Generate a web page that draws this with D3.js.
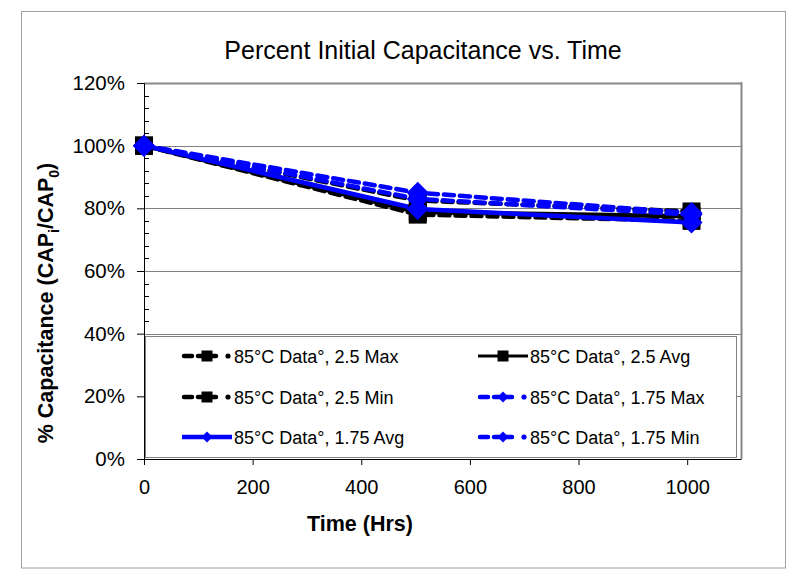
<!DOCTYPE html>
<html><head><meta charset="utf-8">
<script src="https://cdn.jsdelivr.net/npm/d3@7"></script>
<style>body{margin:0;background:#fff}svg{display:block;font-family:"Liberation Sans",Arial,sans-serif}</style>
</head><body><div id="c"></div>
<script>
const times = [0, 504, 1008];
const seriesNames = ["85°C Data°, 2.5 Max","85°C Data°, 2.5 Avg","85°C Data°, 2.5 Min","85°C Data°, 1.75 Max","85°C Data°, 1.75 Avg","85°C Data°, 1.75 Min"];
const max25 = [100, 82.5, 79];
const avg25 = [100, 78.8, 77.5];
const min25 = [100, 78, 76];
const max175 = [100, 85, 78.5];
const avg175 = [100, 79.8, 75.5];
const min175 = [100, 83, 78];
const yTicks = [0,20,40,60,80,100,120];
const xTicks = [0,200,400,600,800,1000];

const W=806,H=573;
const svg=d3.select("#c").append("svg").attr("width",W).attr("height",H);
const L=144,R=741.5,T=83,B=459;
const x=d3.scaleLinear().domain([0,1100]).range([L,R]);
const y=d3.scaleLinear().domain([0,120]).range([B,T]);

svg.append("rect").attr("x",21.5).attr("y",11.5).attr("width",764).attr("height",556.5).attr("fill","#fff").attr("stroke","#a0a0a0");

svg.append("text").attr("x",423).attr("y",59).attr("text-anchor","middle").attr("font-size",25).text("Percent Initial Capacitance vs. Time");

// gridlines
svg.append("g").selectAll("line").data(yTicks.filter(d=>d>0)).join("line")
 .attr("x1",L).attr("x2",R).attr("y1",d=>Math.round(y(d))+0.5).attr("y2",d=>Math.round(y(d))+0.5)
 .attr("stroke",d=>d===120?"#888":"#808080").attr("stroke-width",d=>d===120?2:1);
svg.append("line").attr("x1",R).attr("x2",R).attr("y1",T-1).attr("y2",B).attr("stroke","#888").attr("stroke-width",2);

// axes
const yAxis=d3.axisLeft(y).tickValues(yTicks).tickFormat(d=>d+"%").tickSize(7).tickPadding(12);
const gy=svg.append("g").attr("transform",`translate(${L},0)`).call(yAxis);
gy.select(".domain").attr("stroke","#000");
gy.selectAll("text").attr("font-size",20.5).attr("font-family","Liberation Sans, Arial").attr("fill","#000");
// minor y ticks inside
svg.append("g").selectAll("line").data(d3.range(0,121,4).filter(d=>d%20!==0)).join("line")
 .attr("x1",L).attr("x2",L+5).attr("y1",d=>Math.round(y(d))+0.5).attr("y2",d=>Math.round(y(d))+0.5).attr("stroke","#000");
const xAxis=d3.axisBottom(x).tickValues(xTicks).tickFormat(d3.format("d")).tickSize(6).tickPadding(15);
const gx=svg.append("g").attr("transform",`translate(0,${B})`).call(xAxis);
gx.select(".domain").attr("stroke","#000").attr("d",`M${L},0.5H${R}`);
gx.selectAll("text").attr("font-size",20).attr("font-family","Liberation Sans, Arial").attr("fill","#000");

// axis titles
svg.append("text").attr("x",360).attr("y",531).attr("text-anchor","middle").attr("font-size",21.5).attr("font-weight","bold").text("Time (Hrs)");
const yt=svg.append("text").attr("transform","translate(53,303) rotate(-90)").attr("text-anchor","middle").attr("font-size",21.5).attr("font-weight","bold");
yt.append("tspan").text("% Capacitance (CAP");
yt.append("tspan").attr("font-size",14).attr("dy",6).text("i");
yt.append("tspan").attr("dy",-6).text("/CAP");
yt.append("tspan").attr("font-size",14).attr("dy",6).text("0");
yt.append("tspan").attr("dy",-6).text(")");

// series
const series=[
 {name:seriesNames[0],vals:max25,color:"#000",dash:"10,6",marker:"sq"},
 {name:seriesNames[1],vals:avg25,color:"#000",dash:null,marker:"sq"},
 {name:seriesNames[2],vals:min25,color:"#000",dash:"10,6",marker:"sq"},
 {name:seriesNames[3],vals:max175,color:"#0000ff",dash:"10,6",marker:"di"},
 {name:seriesNames[4],vals:avg175,color:"#0000ff",dash:null,marker:"di"},
 {name:seriesNames[5],vals:min175,color:"#0000ff",dash:"10,6",marker:"di"}
];
const line=d3.line().x((d,i)=>x(times[i])).y(d=>y(d));
function marker(g,type,color,cx,cy,s){
 if(type==="sq") g.append("rect").attr("x",cx-s/2).attr("y",cy-s/2).attr("width",s).attr("height",s).attr("fill",color);
 else g.append("path").attr("d",`M${cx},${cy-s/2}L${cx+s/2},${cy}L${cx},${cy+s/2}L${cx-s/2},${cy}Z`).attr("fill",color);
}
const gs=svg.append("g");
series.forEach(s=>{
 gs.append("path").attr("d",line(s.vals)).attr("fill","none").attr("stroke",s.color).attr("stroke-width",4.5)
  .attr("stroke-dasharray",s.dash).attr("stroke-linecap",s.dash?"round":"butt").attr("stroke-linejoin","round");
});
series.forEach(s=>{
 s.vals.forEach((v,i)=>marker(gs,s.marker,s.color,x(times[i]),y(v),s.marker==="sq"?18:22));
});

// legend
const lg=svg.append("g");
lg.append("rect").attr("x",145.5).attr("y",336.5).attr("width",591).attr("height",121).attr("fill","#fff").attr("stroke","#808080");
const cols=[182,478], rows=[356,397,437];
series.forEach((s,k)=>{
 const cx=cols[k%2], cy=rows[Math.floor(k/2)];
 const g=lg.append("g");
 if(s.dash){
  g.append("line").attr("x1",cx+2).attr("x2",cx+10).attr("y1",cy).attr("y2",cy).attr("stroke",s.color).attr("stroke-width",4.5).attr("stroke-linecap","round");
  g.append("line").attr("x1",cx+16).attr("x2",cx+34).attr("y1",cy).attr("y2",cy).attr("stroke",s.color).attr("stroke-width",4.5).attr("stroke-linecap","round");
  g.append("circle").attr("cx",cx+46).attr("cy",cy).attr("r",2.6).attr("fill",s.color);
 } else {
  g.append("line").attr("x1",cx).attr("x2",cx+50).attr("y1",cy).attr("y2",cy).attr("stroke",s.color).attr("stroke-width",s.color==="#000"?3:4.5);
 }
 marker(g,s.marker,s.color,cx+25,cy,11);
 g.append("text").attr("x",cx+52).attr("y",cy+6.5).attr("font-size",18).text(s.name);
});
</script></body></html>
